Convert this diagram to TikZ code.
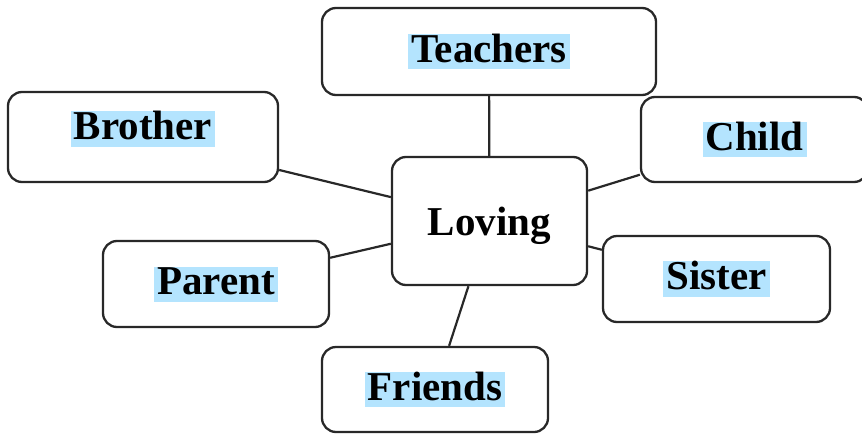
\documentclass[tikz,border=0pt]{standalone}
\usepackage{fontspec}
\setmainfont{Liberation Serif}
\usetikzlibrary{positioning}

\definecolor{hlblue}{RGB}{180,228,254}
\definecolor{edge}{RGB}{40,40,40}
\newcommand{\marktext}[1]{{\setlength{\fboxsep}{0pt}\colorbox{hlblue}{\hspace{3pt}\rule[-7pt]{0pt}{35pt}#1\hspace{3pt}}}}

\begin{document}
\begin{tikzpicture}[x=1pt,y=-1pt,
    word/.style={draw=edge, line width=2.3pt, rounded corners=14pt, fill=white,
      inner sep=0pt, font=\fontsize{41}{41}\selectfont\bfseries},
    link/.style={draw=edge, line width=2.2pt}]
      \useasboundingbox (0,0) rectangle (862,434);
      \node[word, minimum width=195pt, minimum height=128pt, text depth=0pt] (love) at (489.5,221) {Loving};
      \node[word, minimum width=334pt, minimum height=87pt] (teach) at (489,51.5) {\marktext{Teachers}};
      \node[word, minimum width=270pt, minimum height=90pt] (bro) at (143,137) {\raisebox{8pt}[28pt][7pt]{\marktext{Brother}}\hspace{9pt}};
      \node[word, minimum width=227pt, minimum height=85pt] (child) at (754.5,139.5) {\marktext{Child}};
      \node[word, minimum width=226pt, minimum height=86pt] (par) at (216,284) {\marktext{Parent}};
      \node[word, minimum width=227pt, minimum height=86pt] (sis) at (716.5,279) {\marktext{Sister}};
      \node[word, minimum width=226pt, minimum height=85pt] (friend) at (435,389.5) {\marktext{Friends}};
      \draw[link] (love) -- (teach);
      \draw[link] (love) -- (bro);
      \draw[link] (love) -- (child);
      \draw[link] (love) -- (par);
      \draw[link] (love) -- (sis);
      \draw[link] (love) -- (friend);
\end{tikzpicture}
\end{document}
